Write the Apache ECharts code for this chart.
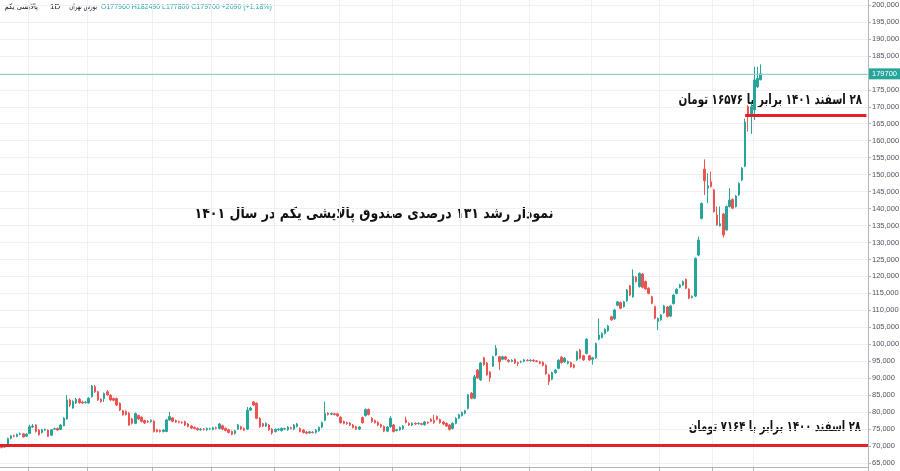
<!DOCTYPE html>
<html>
<head>
<meta charset="utf-8">
<script src="https://cdn.jsdelivr.net/npm/echarts@6/dist/echarts.min.js"></script>
<style>
html,body{margin:0;padding:0;background:#fff;}
#chart{width:900px;height:471px;}
</style>
</head>
<body>
<div id="chart"></div>
<script>
// ---- data ----
const slotCount = 279; // day slots on the time axis (incl. empty space at the right)
const dayLabels = Array.from({length: slotCount}, (_, i) => 'D' + (i + 1));
const monthStarts = [9, 28, 49, 68, 88, 109, 126, 148, 170, 190, 212, 229, 242];

const opens = [
69900,69700,70300,72300,73000,72800,73500,73600,72900,73700,
75600,76200,74700,74000,74700,74700,73200,75000,75200,74900,
76000,78000,83600,81200,82700,83800,83000,82800,82700,84500,
87500,86000,83800,84000,86000,85000,84000,84000,82600,80400,
80200,79700,78000,76700,79000,78500,77500,77300,77200,77300,
74800,74600,74300,74300,77700,78300,77500,77200,77000,77200,
76500,75900,75500,75200,74800,75000,74800,75000,74900,75400,
75200,76000,75200,74800,74300,73700,75000,75700,75200,75000,
80600,83000,82600,78200,76600,75900,76200,75000,74300,74800,
74600,75000,74800,75400,75000,75800,75200,74700,74100,73900,
74100,74000,74500,75600,77600,79700,79400,79500,79500,78500,
77200,76900,76800,76200,75700,75000,78400,79000,80800,78200,
77500,77000,76300,75800,74400,75700,76200,74600,74800,75100,
77700,76700,76200,76700,76600,76600,76300,77000,77900,77600,
78700,77800,77100,76700,76200,75200,76700,78200,79000,79700,
81100,85600,84100,92400,89500,96000,94500,91800,93600,96800,
96300,95600,96300,95300,95000,95500,94600,94800,95000,95300,
95200,95300,95100,94800,94700,93800,91000,89700,91600,92900,
96200,94800,94400,94600,93900,95400,98300,96600,97300,96600,
95600,96000,101500,102000,103200,104000,108100,107500,111500,112300,
111100,112800,117200,114000,119800,117000,120700,118500,116500,114000,
111100,106700,107200,109300,111000,108300,112000,115000,116800,117500,
119100,116200,113800,114200,126300,137100,151600,146000,147900,145500,
138100,134900,138400,133700,140600,142700,140600,144000,148400,152500,
170000,167600,169100,175900,177960
];
const closes = [
69600,70300,72200,73000,72900,73400,73600,72700,73500,75700,
75900,74300,73300,74800,74900,72900,74800,75100,74700,76200,
78200,83600,82100,83100,83800,82800,82700,82900,84100,87700,
86000,83600,83100,85500,85100,83600,83500,82100,80600,79200,
79300,76200,76700,79600,78000,77300,76800,77100,77600,74300,
74300,74300,74700,77700,78700,77300,77100,77000,76900,76200,
75800,75300,75200,74800,75000,74900,75200,75100,75400,75200,
76500,75000,74600,74000,73500,74500,76200,75000,74700,80600,
81200,82100,78200,75700,75900,76700,74800,73900,74900,75000,
75200,75100,75600,75200,76200,76500,74300,74000,73800,74200,
74000,74700,75500,76900,79600,79300,79600,79300,78900,76900,
76700,76600,76200,75500,75000,75600,76900,80800,79300,77200,
76900,76200,75700,74400,75600,78200,74300,74800,75500,75900,
77000,76200,76700,76500,76700,76400,77100,76800,77300,76900,
77900,76900,76500,75900,74900,76700,78200,79200,79900,80400,
85100,84100,90400,90100,94500,94000,91000,90100,96300,98800,
94800,96300,95600,94900,95300,94500,94300,94900,95400,95200,
95300,95100,94900,94400,93800,91300,89000,91600,92400,95300,
94600,95900,94900,93400,93200,97800,95900,95400,101500,95400,
96000,100200,102700,103200,104400,105400,107200,110100,112500,110600,
112500,116000,114500,120100,118500,120900,116800,116300,115000,112100,
107700,107600,108600,111300,108200,111300,114500,116200,117500,118500,
116500,113600,114100,125300,130700,141500,148200,146700,146500,139100,
135200,135500,132200,140600,142500,140100,143700,147400,151900,165500,
167600,170000,177900,178400,179700
];
const lows = [
69300,69500,70200,72000,72600,72600,73200,72500,72700,73500,
75300,74000,73100,73700,74500,72700,73000,74700,74500,74700,
75800,77800,81500,81000,82400,82500,82400,82500,82500,84300,
85700,83300,82800,83000,84800,83300,83200,81800,80300,79000,
79000,76000,76400,76500,77700,77000,76500,76800,76900,74000,
74000,74000,74000,74100,77400,77000,76800,76700,76600,75900,
75500,75000,74900,74500,74500,74600,74500,74700,74600,74900,
74900,74700,74300,73700,73200,73400,74800,74700,74400,74800,
80300,81800,77900,75400,75600,75600,74500,73400,74000,74500,
74300,74700,74500,74900,74700,75500,74000,73700,73500,73600,
73700,73700,74200,75300,77300,79000,79100,79000,78600,76600,
76400,76300,75900,75200,74700,74700,76600,78700,79000,76900,
76600,75900,75400,74100,74100,75400,74000,74300,74500,74800,
76700,75900,75900,76200,76300,76100,76000,76500,77000,76600,
77600,76600,76200,75600,74600,74900,76400,77900,78700,79400,
80800,83800,83900,89800,89200,93700,90700,89000,93300,96500,
92400,95300,95300,94600,94700,94200,93600,94500,94700,95000,
94900,94800,94700,94100,93500,91000,88000,89400,91300,92600,
94300,94500,94100,93100,92900,95100,95600,95100,97000,95100,
94000,95700,101200,101700,102900,103700,106900,107200,111200,110300,
110800,112500,114200,113700,118200,116700,116500,116000,114700,111800,
107400,104200,106900,109000,107900,108000,111700,114700,116500,117200,
116200,113300,113500,113900,126000,136800,144000,141600,146200,138800,
134900,134700,131500,133400,140300,139800,140300,143700,148100,152200,
162700,162000,166100,175500,177800
];
const highs = [
70100,70500,72500,73300,73400,73700,74000,73900,73800,76300,
76500,76400,75000,75100,75200,74900,75000,75400,75500,76500,
78500,85000,84000,83500,84200,84200,83400,83300,84400,88000,
88000,86300,84100,85800,86500,85300,84300,84300,82900,80700,
80500,80000,78300,79900,79300,78800,77800,77600,77900,77600,
75100,74900,75000,78000,80100,78600,77800,77500,77300,77500,
76800,76200,75800,75500,75300,75300,75500,75400,75700,75700,
76800,76300,75500,75100,74600,74800,76500,76000,75500,81500,
81600,83300,82900,78500,76900,77000,76500,75300,75200,75300,
75500,75400,75900,75700,76500,76800,75500,75000,74400,74500,
74400,75000,75800,77200,83100,80000,79900,79800,79800,78800,
77500,77200,77100,76500,76000,75900,78700,81100,81100,78500,
77800,77300,76600,76100,75900,78800,76500,75100,75800,76200,
78700,77000,77000,77000,77000,76900,77400,77300,78200,79200,
79000,78100,77400,77000,76500,77000,78500,79500,80200,80700,
85400,85900,91000,92700,94800,96300,94800,92100,96600,99800,
96600,96600,96600,95600,95600,95800,94900,95200,95700,95600,
95600,95600,95400,95100,95000,94100,91300,91900,92700,95600,
96500,96200,95200,94900,94200,98100,98600,96900,101800,96900,
96300,100500,107600,103500,104700,105700,108400,110400,112800,112600,
112800,116300,117500,122100,120100,121200,121000,118800,116800,114300,
111400,107900,108900,111600,111300,111600,114800,116500,117800,118800,
119400,116500,114400,125600,131700,141800,154500,150400,150900,145800,
140600,140600,138700,140900,146000,143000,144000,147700,152200,166500,
170500,171000,181800,181800,182490
];
const yTicks = {min: 60000, max: 205000, step: 5000};
const lastPrice = 179700;
const level1400 = 70350;   // 28 Esfand 1400 line
const level1401 = 167365;  // 28 Esfand 1401 line
const level1401StartDay = 239;
const header = {
  name: 'پالایشی یکم', tf: '1D', market: 'بورس تهران',
  ohlc: 'O177960 H182490 L177800 C179700 +2090 (+1.18%)'
};
const titleText = 'نمودار رشد ۱۳۱ درصدی صندوق پالایشی یکم در سال ۱۴۰۱';
const note1401 = '۲۸ اسفند ۱۴۰۱ برابر با ۱۶۵۷۶ تومان';
const note1400 = '۲۸ اسفند ۱۴۰۰ برابر با ۷۱۶۴ تومان';

// ---- chart ----
const candles = opens.map((o, i) => [o, closes[i], lows[i], highs[i]]);
const isMonth = (idx) => monthStarts.indexOf(idx) >= 0;
const RLE = '\u202B', PDF = '\u202C';
const UP = '#26a69a', DOWN = '#ef5350', RED = '#e3202a';

const chart = echarts.init(document.getElementById('chart'), null, {renderer: 'canvas'});
chart.setOption({
  animation: false,
  backgroundColor: '#ffffff',
  grid: {left: 0, right: 32, top: -12, bottom: -9, containLabel: false, outerBoundsMode: 'none'},
  xAxis: {
    type: 'category',
    data: dayLabels,
    boundaryGap: true,
    offset: -13,
    axisLine: {show: true, lineStyle: {color: '#b2b5be', width: 1}},
    axisTick: {show: true, interval: isMonth, length: 4, lineStyle: {color: '#b2b5be'}},
    axisLabel: {show: false},
    splitLine: {show: true, interval: isMonth, lineStyle: {color: '#eef0f5', width: 1}}
  },
  yAxis: {
    type: 'value',
    position: 'right',
    min: yTicks.min, max: yTicks.max, interval: yTicks.step,
    axisLine: {show: true, lineStyle: {color: '#b2b5be', width: 1}},
    axisTick: {show: true, length: 3, lineStyle: {color: '#b2b5be'}},
    axisLabel: {show: true, fontSize: 7.5, color: '#50535e', margin: 4, fontFamily: 'Liberation Sans'},
    splitLine: {show: true, lineStyle: {color: '#eef0f5', width: 1}}
  },
  series: [{
    type: 'candlestick',
    data: candles,
    barWidth: 2,
    itemStyle: {color: UP, color0: DOWN, borderColor: UP, borderColor0: DOWN, borderWidth: 1},
    markLine: {
      silent: true,
      symbol: 'none',
      z: 10,
      data: [
        {yAxis: lastPrice, lineStyle: {color: '#8fd0c9', width: 1, type: 'solid', opacity: 1},
         label: {show: true, position: 'end', distance: 1, formatter: String(lastPrice),
                 backgroundColor: UP, color: '#ffffff', padding: [2, 3, 1, 3], fontSize: 7.5,
                 fontFamily: 'Liberation Sans'}},
        {yAxis: level1400, lineStyle: {color: RED, width: 3, type: 'solid', opacity: 1}, label: {show: false}},
        [{coord: [level1401StartDay, level1401], lineStyle: {color: RED, width: 3, type: 'solid', opacity: 1}, label: {show: false}},
         {coord: [slotCount - 1, level1401]}]
      ]
    }
  }],
  graphic: [
    {type: 'text', x: 38, y: 7, scaleX: 0.9, style: {text: header.name, font: '7.5px "DejaVu Sans"', fill: '#131722', textAlign: 'right', textVerticalAlign: 'middle'}},
    {type: 'text', x: 50, y: 7, style: {text: header.tf, font: '8px "Liberation Sans"', fill: '#131722', textAlign: 'left', textVerticalAlign: 'middle'}},
    {type: 'text', x: 97, y: 7, scaleX: 0.72, style: {text: header.market, font: '7.5px "DejaVu Sans"', fill: '#131722', textAlign: 'right', textVerticalAlign: 'middle'}},
    {type: 'text', x: 101, y: 7, style: {text: header.ohlc, font: '7px "Liberation Sans"', fill: UP, textAlign: 'left', textVerticalAlign: 'middle'}},
    {type: 'text', x: 374, y: 214, scaleX: 0.836, style: {text: RLE + titleText + PDF, font: 'bold 15px "DejaVu Sans"', fill: '#111111', textAlign: 'center', textVerticalAlign: 'middle'}},
    {type: 'text', x: 862, y: 100, scaleX: 0.737, style: {text: RLE + note1401 + PDF, font: 'bold 14px "DejaVu Sans"', fill: '#111111', textAlign: 'right', textVerticalAlign: 'middle'}},
    {type: 'text', x: 861, y: 427, scaleX: 0.717, style: {text: RLE + note1400 + PDF, font: 'bold 14px "DejaVu Sans"', fill: '#111111', textAlign: 'right', textVerticalAlign: 'middle'}}
  ]
});
</script>
</body>
</html>
